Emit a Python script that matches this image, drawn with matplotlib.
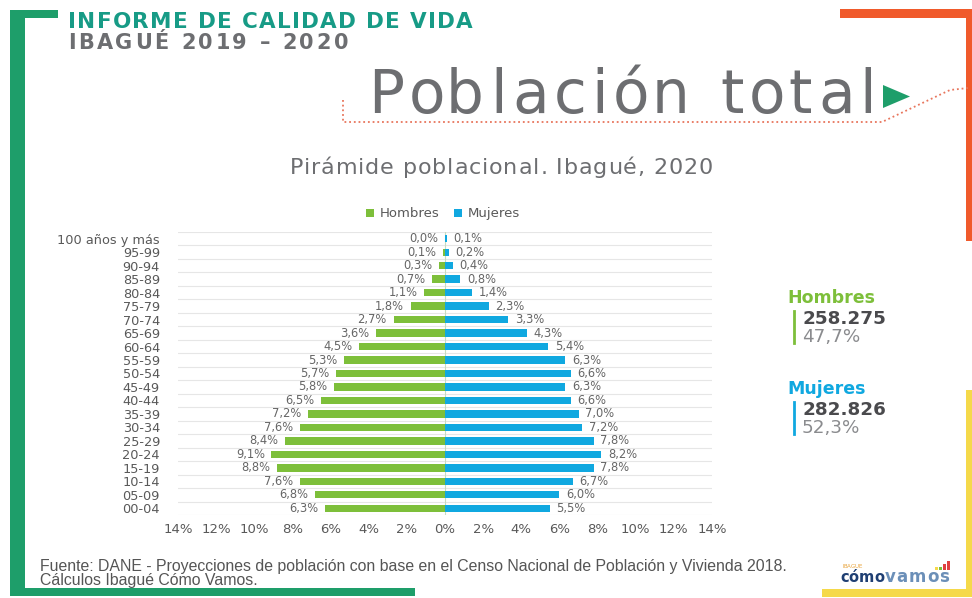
#!/usr/bin/env python3
"""Pirámide poblacional Ibagué 2020 -> out.png"""
import matplotlib
matplotlib.use("Agg")
import matplotlib.pyplot as plt
from matplotlib.patches import Rectangle, Polygon
from matplotlib.font_manager import FontProperties

plt.rcParams["font.family"] = ["DejaVu Sans"]

AGES = ["00-04", "05-09", "10-14", "15-19", "20-24", "25-29", "30-34", "35-39",
        "40-44", "45-49", "50-54", "55-59", "60-64", "65-69", "70-74", "75-79",
        "80-84", "85-89", "90-94", "95-99", "100 años y más"]
HOMBRES = [6.3, 6.8, 7.6, 8.8, 9.1, 8.4, 7.6, 7.2, 6.5, 5.8, 5.7, 5.3, 4.5, 3.6,
           2.7, 1.8, 1.1, 0.7, 0.3, 0.1, 0.0]
MUJERES = [5.5, 6.0, 6.7, 7.8, 8.2, 7.8, 7.2, 7.0, 6.6, 6.3, 6.6, 6.3, 5.4, 4.3,
           3.3, 2.3, 1.4, 0.8, 0.4, 0.2, 0.1]
XTICKS = [-14, -12, -10, -8, -6, -4, -2, 0, 2, 4, 6, 8, 10, 12, 14]
TOTALS = {"Hombres": ("258.275", "47,7%"), "Mujeres": ("282.826", "52,3%")}

C_H, C_M = "#7dbf3a", "#10a8e0"
C_GRAY, C_TXT = "#6d6e71", "#595959"
C_TEAL, C_GREEN = "#179b86", "#1e9e6a"
C_ORANGE, C_YELLOW = "#f05a2b", "#f5d94a"

W, H = 972, 598
fig = plt.figure(figsize=(W / 100, H / 100), dpi=100)
rend = fig.canvas.get_renderer()

# background / decoration layer in pixel coords
bg = fig.add_axes([0, 0, 1, 1], zorder=0)
bg.set_xlim(0, W); bg.set_ylim(H, 0); bg.axis("off")


def adv(s, fp):
    return rend.get_text_width_height_descent(s, fp, ismath=False)[0]


def tracked(x0, base, s, size, x1=None, track=0.0, weight="normal", **kw):
    """Draw s glyph by glyph on the baseline, spread to end at x1."""
    fp = FontProperties(family="DejaVu Sans", size=size, weight=weight)
    wx = adv("x", fp)
    pos = [adv(s[:i] + "x", fp) - wx if i else 0.0 for i in range(len(s))]
    if x1 is not None:
        track = (x1 - x0 - adv(s, fp)) / (len(s) - 1)
    for i, ch in enumerate(s):
        if ch != " ":
            bg.text(x0 + pos[i] + i * track, base, ch, fontproperties=fp,
                    ha="left", va="baseline", **kw)
    return x0 + adv(s, fp) + (len(s) - 1) * track


bg.add_patch(Rectangle((10, 10), 15, 585, color=C_GREEN, lw=0))
bg.add_patch(Rectangle((10, 10), 48, 8, color=C_GREEN, lw=0))
bg.add_patch(Rectangle((10, 588), 405, 8, color=C_GREEN, lw=0))
bg.add_patch(Rectangle((840, 9), 132, 9, color=C_ORANGE, lw=0))
bg.add_patch(Rectangle((966, 9), 6, 232, color=C_ORANGE, lw=0))
bg.add_patch(Rectangle((822, 589), 150, 8, color=C_YELLOW, lw=0))
bg.add_patch(Rectangle((966, 390), 6, 207, color=C_YELLOW, lw=0))

tracked(68, 28, "INFORME DE CALIDAD DE VIDA", 15.5, x1=473, weight="bold", color=C_TEAL)
tracked(68, 49, "IBAGUÉ 2019 – 2020", 15, x1=348, weight="bold", color=C_GRAY)
tracked(368, 113, "Población total", 43, x1=876, color=C_GRAY)
bg.add_patch(Polygon([(883, 85), (883, 108), (910, 96.5)], color=C_GREEN, lw=0))
bg.plot([343, 343, 882, 950, 968], [100, 122, 122, 90, 88], color="#e8755c",
        lw=1.3, ls=(0, (1, 1.6)))

tracked(290, 174.5, "Pirámide poblacional. Ibagué, 2020", 16, x1=713, color=C_GRAY)

# legend
bg.add_patch(Rectangle((366, 209), 8, 8, color=C_H, lw=0))
bg.text(380, 213.5, "Hombres", color=C_TXT, fontsize=9.5, va="center", ha="left")
bg.add_patch(Rectangle((454, 209), 8, 8, color=C_M, lw=0))
bg.text(468, 213.5, "Mujeres", color=C_TXT, fontsize=9.5, va="center", ha="left")

# right-side totals
for (name, (num, pct)), y0, col in zip(TOTALS.items(), (298, 389), (C_H, C_M)):
    bg.text(787, y0, name, color=col, fontsize=12.5, fontweight="bold", va="center")
    bg.plot([794, 794], [y0 + 13, y0 + 45], color=col, lw=2)
    bg.text(802, y0 + 21, num, color="#4a4a4d", fontsize=13.2, fontweight="bold", va="center")
    bg.text(802, y0 + 39, pct, color="#8a8b8e", fontsize=13.2, va="center")

bg.text(40, 566, "Fuente: DANE - Proyecciones de población con base en el Censo Nacional "
        "de Población y Vivienda 2018.", color="#555555", fontsize=11.4,
        family="Liberation Sans", va="center")
bg.text(40, 580, "Cálculos Ibagué Cómo Vamos.", color="#555555", fontsize=11.4,
        family="Liberation Sans", va="center")

# logo
tracked(842, 568, "IBAGUE", 4, x1=862, color="#e8a33a")
xe = tracked(840, 582, "cómo", 10.5, weight="bold", color="#1f3f73")
tracked(xe + 1, 582, "vamos", 12, x1=949, weight="bold", color="#6b8fb8")
for x0, hh, c in [(935, 3, C_YELLOW), (939, 3, "#7dbf3a"), (943, 6, "#e04040"), (947, 9, "#e04040")]:
    bg.add_patch(Rectangle((x0, 570 - hh), 2.5, hh, color=c, lw=0))

# pyramid
ax = fig.add_axes([178 / W, 1 - 515 / H, (712 - 178) / W, (515 - 232) / H], zorder=1)
ax.patch.set_alpha(0)
y = list(range(len(AGES)))
ax.barh(y, [-v for v in HOMBRES], height=0.55, color=C_H, zorder=2)
ax.barh(y, MUJERES, height=0.55, color=C_M, zorder=2)
for yi, h, m in zip(y, HOMBRES, MUJERES):
    ax.text(-h - 0.35, yi, f"{h:.1f}%".replace(".", ","), ha="right", va="center",
            fontsize=8.3, color="#666666")
    ax.text(m + 0.35, yi, f"{m:.1f}%".replace(".", ","), ha="left", va="center",
            fontsize=8.3, color="#666666")
for yb in [i - 0.5 for i in range(len(AGES) + 1)]:
    ax.axhline(yb, color="#e6e6e6", lw=0.8, zorder=1)
ax.axvline(0, color="#c8dcc0", lw=0.8, zorder=1)
ax.set_xlim(-14, 14)
ax.set_ylim(-0.5, len(AGES) - 0.5)
ax.set_yticks(y)
ax.set_yticklabels(AGES, fontsize=9.3, color=C_TXT)
ax.set_xticks(XTICKS)
ax.set_xticklabels([f"{abs(t)}%" for t in XTICKS], fontsize=9.5, color=C_TXT)
ax.tick_params(length=0, pad=6)
ax.tick_params(axis="y", pad=13)
for s in ax.spines.values():
    s.set_visible(False)

fig.savefig("out.png", dpi=100)
